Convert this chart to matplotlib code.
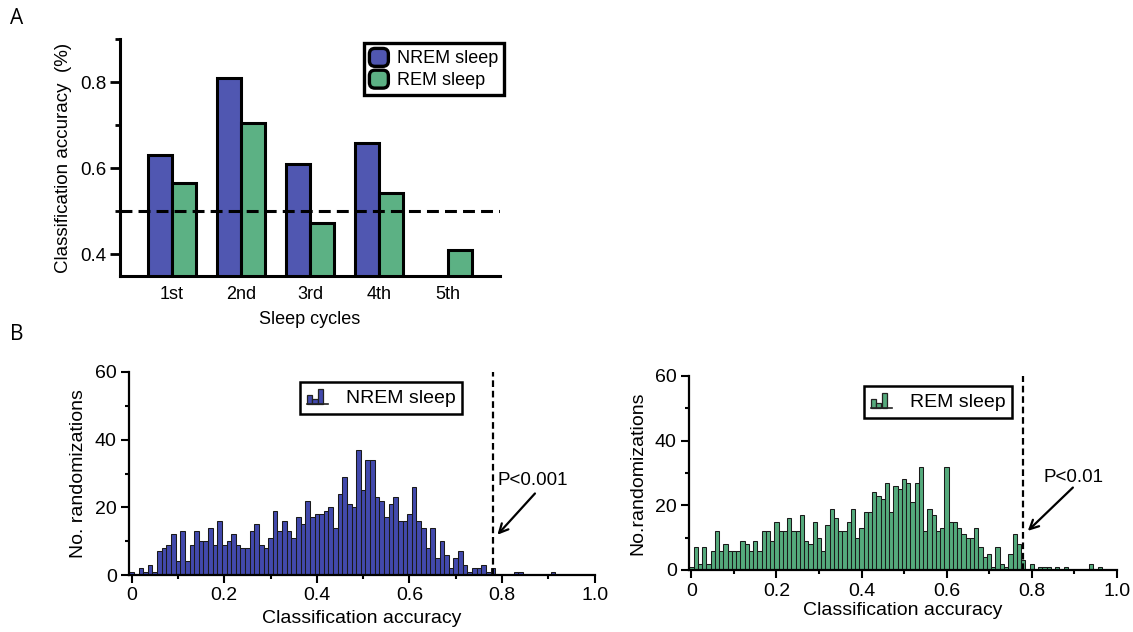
import numpy as np
import matplotlib
matplotlib.use("Agg")
import matplotlib.pyplot as plt
from matplotlib.patches import Rectangle, FancyBboxPatch, Patch
from matplotlib.legend_handler import HandlerBase
from matplotlib.lines import Line2D
from matplotlib.ticker import FixedLocator

plt.rcParams['font.family'] = ['Liberation Sans', 'DejaVu Sans']

# ---------------- data ----------------
cycles = ['1st', '2nd', '3rd', '4th', '5th']
nrem_acc = [0.631, 0.810, 0.610, 0.659, np.nan]
rem_acc = [0.565, 0.705, 0.474, 0.542, 0.410]
chance_level = 0.5

bin_centers = np.round(np.arange(101) * 0.01, 2)
nrem_counts = [1, 0, 2, 1, 3, 1, 7, 8, 9, 12,
               4, 13, 4, 9, 13, 10, 10, 14, 9, 16,
               9, 10, 12, 9, 8, 8, 13, 15, 9, 8,
               11, 19, 13, 16, 13, 11, 17, 15, 22, 17,
               18, 18, 19, 20, 14, 24, 29, 21, 20, 37,
               25, 34, 34, 23, 22, 17, 21, 23, 16, 16,
               18, 26, 16, 14, 8, 14, 5, 10, 6, 2,
               5, 7, 3, 1, 2, 2, 3, 1, 2, 0,
               0, 0, 0, 1, 1, 0, 0, 0, 0, 0,
               0, 1, 0, 0, 0, 0, 0, 0, 0, 0,
               0]
rem_counts = [1, 7, 2, 7, 2, 6, 12, 6, 8, 6,
              6, 6, 9, 8, 6, 9, 6, 12, 12, 9,
              15, 12, 12, 16, 12, 12, 17, 9, 8, 15,
              10, 6, 14, 19, 16, 12, 12, 15, 19, 10,
              13, 18, 18, 24, 23, 22, 27, 18, 26, 25,
              28, 27, 21, 27, 32, 12, 19, 17, 12, 13,
              32, 15, 15, 13, 11, 10, 10, 13, 7, 4,
              5, 1, 7, 2, 1, 5, 11, 8, 3, 0,
              2, 0, 1, 1, 1, 0, 1, 0, 1, 0,
              0, 0, 0, 0, 2, 0, 1, 0, 0, 0,
              0]
nrem_observed = 0.78
rem_observed = 0.78
nrem_p_label = 'P<0.001'
rem_p_label = 'P<0.01'

NREM_C = '#5057B1'
REM_C = '#5CB184'
HIST_N = '#4249AC'
HIST_R = '#55AA7C'

W, H = 1133, 632
fig = plt.figure(figsize=(W / 100, H / 100), dpi=100)


def px_axes(x0, x1, ytop, ybot):
    return fig.add_axes([x0 / W, 1 - ybot / H, (x1 - x0) / W, (ybot - ytop) / H])


class RoundBoxHandler(HandlerBase):
    def create_artists(self, legend, orig_handle, xdescent, ydescent,
                       width, height, fontsize, trans):
        p = FancyBboxPatch((-xdescent, -ydescent), width, height,
                           boxstyle="round,pad=0,rounding_size=4",
                           facecolor=orig_handle.get_facecolor(),
                           edgecolor='black', linewidth=2.4, transform=trans)
        return [p]


class HistIconHandler(HandlerBase):
    def create_artists(self, legend, orig_handle, xdescent, ydescent,
                       width, height, fontsize, trans):
        x0, y0 = -xdescent, -ydescent
        fc = orig_handle.get_facecolor()
        hs = [0.62, 0.35, 1.0]
        bw = width * 0.25
        arts = []
        for i, h in enumerate(hs):
            arts.append(Rectangle((x0 + i * bw, y0), bw, height * h,
                                  facecolor=fc, edgecolor='#222222',
                                  linewidth=0.9, transform=trans))
        arts.append(Line2D([x0, x0 + width], [y0, y0], color='#222222',
                           linewidth=1.2, transform=trans))
        return arts


# ---------------- Panel A ----------------
axA = px_axes(120, 500, 39, 276)
x = np.arange(len(cycles))
w = 0.35
axA.bar(x - w / 2, nrem_acc, w, color=NREM_C, edgecolor='black',
        linewidth=2.2, label='NREM sleep', zorder=2)
axA.bar(x + w / 2, rem_acc, w, color=REM_C, edgecolor='black',
        linewidth=2.2, label='REM sleep', zorder=2)
axA.axhline(chance_level, color='black', linewidth=2.2,
            linestyle=(0, (3.9, 2.0)), zorder=3)
axA.set_xlim(-0.75, 4.75)
axA.set_ylim(0.35, 0.9)
axA.set_xticks(x)
axA.set_xticklabels(cycles, fontsize=13)
axA.yaxis.set_major_locator(FixedLocator([0.4, 0.6, 0.8]))
axA.yaxis.set_minor_locator(FixedLocator([0.5, 0.7, 0.9]))
axA.set_yticklabels(['0.4', '0.6', '0.8'], fontsize=13.5)
axA.tick_params(axis='x', length=0, pad=7)
axA.tick_params(axis='y', which='major', length=7, width=2, pad=3)
axA.tick_params(axis='y', which='minor', length=3.5, width=2)
for s in ['top', 'right']:
    axA.spines[s].set_visible(False)
for s in ['left', 'bottom']:
    axA.spines[s].set_linewidth(2.2)
axA.set_ylabel('Classification accuracy  (%)', fontsize=13.5, labelpad=6)
axA.set_xlabel('Sleep cycles', fontsize=13, labelpad=6)
legA = axA.legend(handles=[Patch(facecolor=NREM_C), Patch(facecolor=REM_C)],
                  labels=['NREM sleep', 'REM sleep'],
                  handler_map={Patch: RoundBoxHandler()},
                  loc='upper left', bbox_to_anchor=(364 / W, 1 - 43 / H),
                  bbox_transform=fig.transFigure, borderaxespad=0,
                  fontsize=13, frameon=True, fancybox=False, framealpha=1,
                  handlelength=1.05, handleheight=1.15, handletextpad=0.5,
                  labelspacing=0.15, borderpad=0.3)
legA.get_frame().set_edgecolor('black')
legA.get_frame().set_linewidth(2.4)


# ---------------- Panel B histograms ----------------
def hist_panel(ax, counts, color, observed, plabel, label, ylabel,
               head, tail, text_xy, leg_anchor, xlabel_pad):
    ax.bar(bin_centers, counts, width=0.01, color=color,
           edgecolor='#1a1a1a', linewidth=0.75, zorder=2, label=label)
    ax.axvline(observed, color='black', linewidth=1.6,
               linestyle=(0, (3.0, 1.7)), zorder=3)
    ax.set_xlim(-0.005, 1.0)
    ax.set_ylim(0, 60)
    ax.xaxis.set_major_locator(FixedLocator([0, 0.2, 0.4, 0.6, 0.8, 1.0]))
    ax.xaxis.set_minor_locator(FixedLocator([0.1, 0.3, 0.5, 0.7, 0.9]))
    ax.set_xticklabels(['0', '0.2', '0.4', '0.6', '0.8', '1.0'], fontsize=14)
    ax.yaxis.set_major_locator(FixedLocator([0, 20, 40, 60]))
    ax.yaxis.set_minor_locator(FixedLocator([10, 30, 50]))
    ax.set_yticklabels(['0', '20', '40', '60'], fontsize=14)
    ax.tick_params(which='major', length=6, width=1.5, pad=3)
    ax.tick_params(which='minor', length=3, width=1.5)
    for s in ['top', 'right']:
        ax.spines[s].set_visible(False)
    for s in ['left', 'bottom']:
        ax.spines[s].set_linewidth(1.6)
    ax.set_ylabel(ylabel, fontsize=14, labelpad=6)
    ax.set_xlabel('Classification accuracy', fontsize=14, labelpad=xlabel_pad)
    ax.annotate('', xy=head, xytext=tail,
                arrowprops=dict(arrowstyle='->', color='black', lw=1.6,
                                mutation_scale=16, shrinkA=0, shrinkB=0))
    ax.text(text_xy[0], text_xy[1], plabel, fontsize=13.5,
            ha='left', va='center')
    leg = ax.legend(handles=[Patch(facecolor=color)], labels=[label],
                    handler_map={Patch: HistIconHandler()},
                    loc='upper left', bbox_to_anchor=leg_anchor,
                    bbox_transform=fig.transFigure, borderaxespad=0,
                    fontsize=14, frameon=True, fancybox=False, framealpha=1,
                    handlelength=1.1, handleheight=0.85, handletextpad=0.9,
                    borderpad=0.35)
    leg.get_frame().set_edgecolor('black')
    leg.get_frame().set_linewidth(1.8)


axL = px_axes(129.3, 594.7, 372, 575)
hist_panel(axL, nrem_counts, HIST_N, nrem_observed, nrem_p_label,
           'NREM sleep', 'No. randomizations',
           head=(0.790, 11.9), tail=(0.871, 24.1), text_xy=(0.790, 28.0),
           leg_anchor=(300 / W, 1 - 382 / H), xlabel_pad=4)

axR = px_axes(689.3, 1116.7, 376, 570)
hist_panel(axR, rem_counts, HIST_R, rem_observed, rem_p_label,
           'REM sleep', 'No.randomizations',
           head=(0.791, 12.1), tail=(0.897, 25.5), text_xy=(0.827, 28.6),
           leg_anchor=(864 / W, 1 - 386 / H), xlabel_pad=2)

fig.text(17 / W, 1 - 18 / H, 'A', fontsize=15, ha='center', va='center',
         family=['Open Sans', 'DejaVu Sans'])
fig.text(17 / W, 1 - 334 / H, 'B', fontsize=15, ha='center', va='center',
         family=['Open Sans', 'DejaVu Sans'])

fig.savefig('out.png', dpi=100)
